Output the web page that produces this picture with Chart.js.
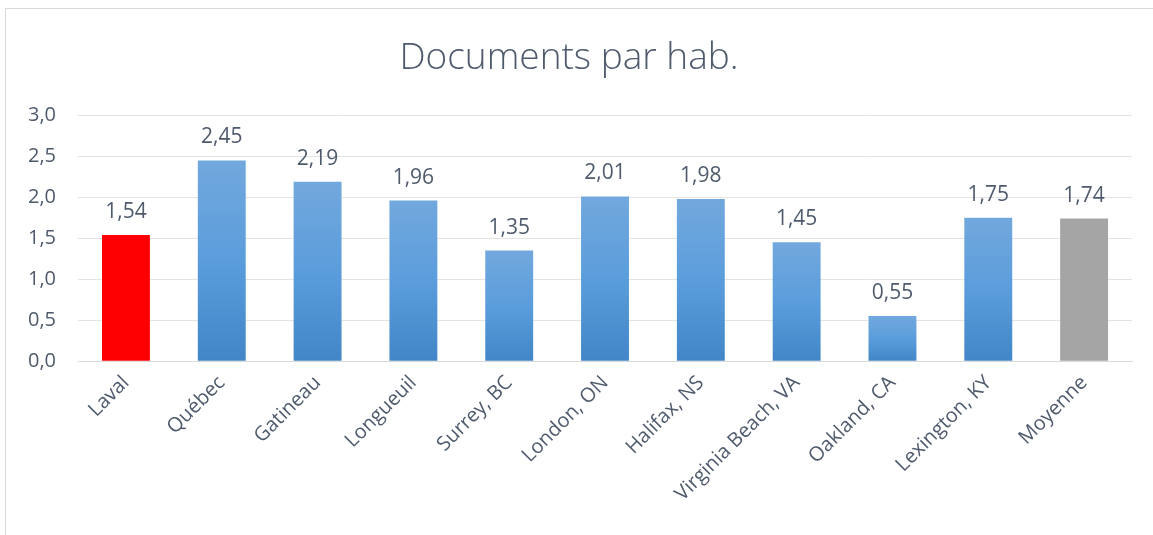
<!DOCTYPE html>
<html>
<head>
<meta charset="utf-8">
<script src="https://cdn.jsdelivr.net/npm/chart.js@4"></script>
<style>
    html, body { margin: 0; padding: 0; background: #fff; }
    #wrap { position: relative; width: 1153px; height: 535px; overflow: hidden; }
    #frame { position: absolute; left: 5px; top: 8px; width: 1160px; height: 540px; border: 1px solid #d9d9d9; pointer-events: none; }
</style>
</head>
<body>
<div id="wrap">
    <canvas id="docChart" width="1153" height="535"></canvas>
    <div id="frame"></div>
</div>
<script>
// Categories and values
const villes = ['Laval', 'Québec', 'Gatineau', 'Longueuil', 'Surrey, BC', 'London, ON', 'Halifax, NS', 'Virginia Beach, VA', 'Oakland, CA', 'Lexington, KY', 'Moyenne'];
const docsParHab = [1.54, 2.45, 2.19, 1.96, 1.35, 2.01, 1.98, 1.45, 0.55, 1.75, 1.74];
const yTicks = [0, 0.5, 1, 1.5, 2, 2.5, 3];

const textColor = '#4f5b6d';
const fontFamily = '"Open Sans", "Noto Sans", sans-serif';

function virgule(v, d) {
    return v.toFixed(d).replace('.', ',');
}

// Bar fill: red for Laval, gray for the average, blue gradient for the rest
function barColor(ctx) {
    const i = ctx.dataIndex;
    if (i === 0) return '#ff0000';
    if (i === villes.length - 1) return '#a5a5a5';
    const chart = ctx.chart;
    if (!chart.chartArea || !chart.scales.y) return '#5b9bd5';
    const y = chart.scales.y;
    const top = y.getPixelForValue(docsParHab[i]);
    const bottom = y.getPixelForValue(0);
    const g = chart.ctx.createLinearGradient(0, top, 0, bottom);
    g.addColorStop(0, '#72a8dd');
    g.addColorStop(0.5, '#5b9ddc');
    g.addColorStop(1, '#4286c7');
    return g;
}

// Small plugin to write the values above the bars
const valeursPlugin = {
    id: 'valeurs',
    afterDatasetsDraw(chart) {
        const ctx = chart.ctx;
        const meta = chart.getDatasetMeta(0);
        ctx.save();
        ctx.font = '21px ' + fontFamily;
        ctx.fillStyle = textColor;
        ctx.textAlign = 'center';
        ctx.textBaseline = 'alphabetic';
        meta.data.forEach(function (bar, i) {
            ctx.fillText(virgule(docsParHab[i], 2), bar.x, bar.y - 17);
        });
        ctx.restore();
    }
};

new Chart(document.getElementById('docChart'), {
    type: 'bar',
    data: {
        labels: villes,
        datasets: [{
            data: docsParHab,
            backgroundColor: barColor,
            borderWidth: 0,
            barPercentage: 0.5,
            categoryPercentage: 1
        }]
    },
    options: {
        responsive: false,
        animation: false,
        layout: {
            padding: { left: 6, right: 21, top: 36, bottom: 19 }
        },
        plugins: {
            legend: { display: false },
            tooltip: { enabled: false },
            title: {
                display: true,
                text: 'Documents par hab.',
                color: '#4f5b6d',
                font: { family: fontFamily, size: 37, weight: '300' },
                padding: { top: 0, bottom: 35 }
            }
        },
        scales: {
            x: {
                grid: { display: false, drawTicks: false },
                border: { display: true, color: '#d9d9d9', width: 1 },
                ticks: {
                    color: textColor,
                    font: { family: fontFamily, size: 20 },
                    minRotation: 45,
                    maxRotation: 45,
                    padding: 10
                }
            },
            y: {
                min: 0,
                max: 3,
                afterBuildTicks: function (axis) {
                    axis.ticks = yTicks.map(function (v) { return { value: v }; });
                },
                grid: { color: '#e3e3e3', drawTicks: false },
                border: { display: false },
                ticks: {
                    color: textColor,
                    font: { family: fontFamily, size: 20 },
                    padding: 22,
                    callback: function (v) { return virgule(v, 1); }
                }
            }
        }
    },
    plugins: [valeursPlugin]
});
</script>
</body>
</html>
